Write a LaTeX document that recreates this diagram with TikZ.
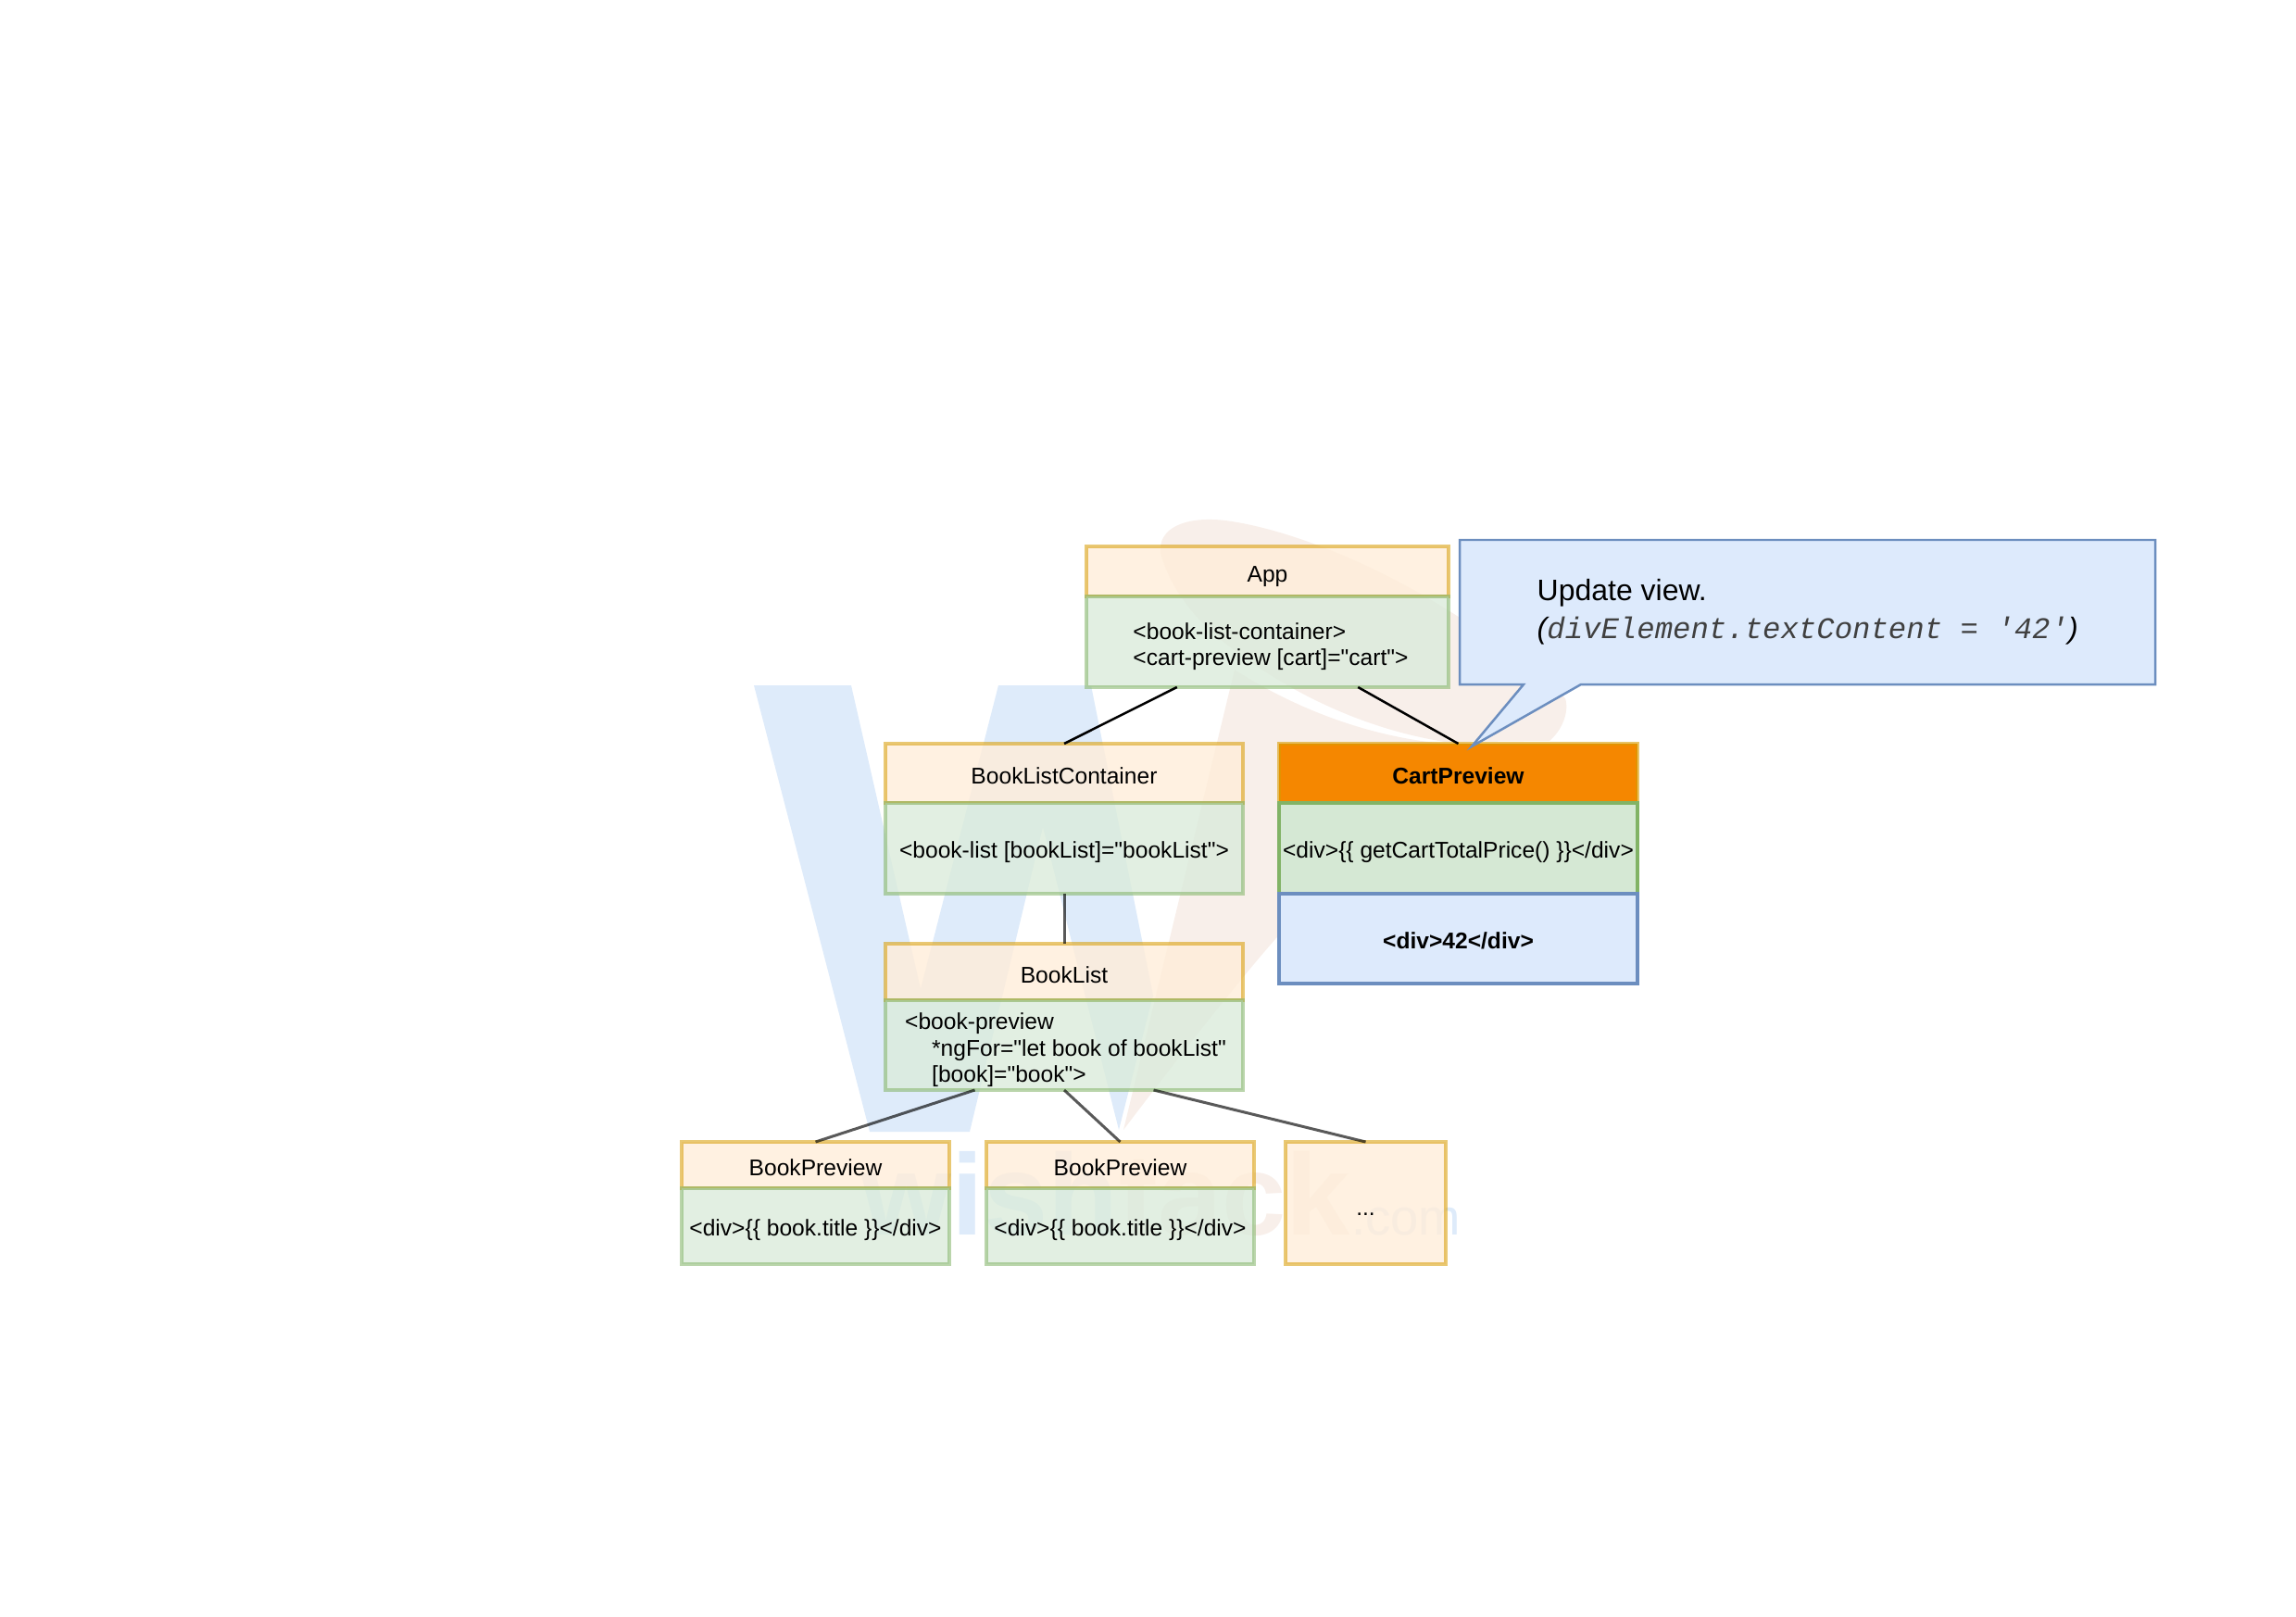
\documentclass[tikz,border=0pt]{standalone}
\usepackage{fontspec}
\setmainfont{Liberation Sans}[Ligatures=TeXOff]
\setmonofont{Liberation Mono}
\usetikzlibrary{positioning,calc}

\definecolor{markblue}{HTML}{DEEBFA}
\definecolor{markorange}{HTML}{F8EFEA}
\definecolor{headfill}{HTML}{FFEDD9}
\definecolor{headline}{HTML}{D79B00}
\definecolor{bodyfill}{HTML}{DBEBDB}
\definecolor{bodyline}{HTML}{82B366}
\definecolor{cartfill}{HTML}{D5E8D4}
\definecolor{viewfill}{HTML}{DDEAFC}
\definecolor{viewline}{HTML}{6C8EBF}
\definecolor{hotfill}{HTML}{F58700}

\newcommand{\topgap}{\rule{0pt}{8pt}}

\begin{document}
\begin{tikzpicture}[
    box/.style = {
      draw,
      rectangle,
      line width = 0.035cm,
      draw opacity = 0.55,
      fill opacity = 0.8,
      text opacity = 1,
      inner sep = 0pt,
      outer sep = 0pt,
      font = \fontsize{7}{8.1}\selectfont
    },
    head/.style = {
      box,
      anchor = north,
      draw = headline,
      fill = headfill,
      text height = 6.55pt,
      text depth = 0pt
    },
    body/.style = {
      box,
      draw = bodyline,
      fill = bodyfill
    },
    oneline/.style = {
      text height = 6.2pt,
      text depth = 0pt
    },
    solid box/.style = {
      draw opacity = 1,
      fill opacity = 1
    },
    link/.style = {
      line width = 0.025cm
    },
    soft link/.style = {
      line width = 0.03cm,
      draw opacity = 0.65
    }
  ]
  \useasboundingbox (0,0) rectangle (24.79,17.45);

  % watermark
  \path[fill=markblue] (8.14,10.05) -- (9.19,10.05) -- (9.94,6.77) -- (10.78,10.05) -- (11.78,10.05)
    -- (12.45,6.70) -- (12.08,5.25) -- (11.26,8.52) -- (10.47,5.23) -- (9.39,5.23) -- cycle;
  \path[fill=markorange] (12.53,11.48) .. controls (12.50,11.75) and (12.80,11.88) .. (13.23,11.83)
    .. controls (14.2,11.7) and (15.7,11.0) .. (16.90,9.91)
    .. controls (16.95,9.75) and (16.85,9.55) .. (16.73,9.45)
    -- (15.6,9.44) .. controls (14.9,9.55) and (14.1,9.85) .. (13.34,10.42)
    .. controls (12.95,10.70) and (12.65,11.05) .. (12.53,11.48) -- cycle;
  \path[fill=markorange] (12.13,5.25) -- (13.33,10.22)
    .. controls (13.9,9.85) and (14.7,9.50) .. (15.6,9.42)
    -- (15.3,9.3) -- (13.85,7.4) .. controls (13.4,6.9) and (12.7,6.0) .. (12.13,5.25) -- cycle;
  \node[anchor=base west, inner sep=0pt, text=markblue, font=\fontsize{35.4}{36}\selectfont\bfseries]
    (markwish) at (9.30,4.12) {wish};
  \node[anchor=base west, inner sep=0pt, text=markorange, font=\fontsize{35.4}{36}\selectfont\bfseries]
    (marktack) at (markwish.base east) {tack};
  \node[anchor=base west, inner sep=0pt, text=markblue, font=\fontsize{15.5}{16}\selectfont]
    (markcom) at (marktack.base east) {.com};

  % components
  \node[head, minimum width=3.91cm, minimum height=0.54cm] (apphead) at (13.685,11.55) {App};
  \node[body, below=0pt of apphead, minimum width=3.91cm, minimum height=0.98cm, align=left] (appbody)
    {\topgap\hspace*{0.07cm}<book-list-container>\\\hspace*{0.07cm}<cart-preview [cart]="cart">};

  \node[head, minimum width=3.86cm, minimum height=0.64cm] (listconthead) at (11.49,9.42) {BookListContainer};
  \node[body, oneline, below=0pt of listconthead, minimum width=3.86cm, minimum height=0.98cm] (listcontbody)
    {<book-list [bookList]="bookList">};

  \node[head, solid box, draw opacity=0.6, fill=hotfill, minimum width=3.87cm, minimum height=0.64cm,
    font=\fontsize{7}{8.1}\selectfont\bfseries] (carthead) at (15.745,9.42) {CartPreview};
  \node[body, oneline, solid box, fill=cartfill, below=0pt of carthead, minimum width=3.87cm, minimum height=0.98cm] (cartbody)
    {<div>\{\{ getCartTotalPrice() \}\}</div>};
  \node[box, oneline, solid box, draw=viewline, fill=viewfill, below=0pt of cartbody, minimum width=3.87cm,
    minimum height=0.97cm, font=\fontsize{7}{8.1}\selectfont\bfseries] (cartview) {<div>42</div>};

  \node[head, minimum width=3.86cm, minimum height=0.61cm] (listhead) at (11.49,7.26) {BookList};
  \node[body, below=0pt of listhead, minimum width=3.86cm, minimum height=0.97cm, align=left] (listbody)
    {\topgap\hspace*{0.03cm}<book-preview\\\hspace*{0.32cm}*ngFor="let book of bookList"\\\hspace*{0.32cm}[book]="book">};

  \node[head, minimum width=2.89cm, minimum height=0.50cm] (firsthead) at (8.805,5.12) {BookPreview};
  \node[body, oneline, below=0pt of firsthead, minimum width=2.89cm, minimum height=0.82cm] (firstbody)
    {<div>\{\{ book.title \}\}</div>};
  \node[head, minimum width=2.89cm, minimum height=0.50cm] (secondhead) at (12.095,5.12) {BookPreview};
  \node[body, oneline, below=0pt of secondhead, minimum width=2.89cm, minimum height=0.82cm] (secondbody)
    {<div>\{\{ book.title \}\}</div>};
  \node[head, text height=7.4pt, minimum width=1.73cm, minimum height=1.32cm] (morehead) at (14.745,5.12) {...};

  % links
  \draw[link] ($(appbody.south west)!0.25!(appbody.south east)$) -- (listconthead.north);
  \draw[link] ($(appbody.south west)!0.75!(appbody.south east)$) -- (carthead.north);
  \draw[soft link] (listcontbody.south) -- (listhead.north);
  \draw[soft link] ($(listbody.south west)!0.25!(listbody.south east)$) -- (firsthead.north);
  \draw[soft link] (listbody.south) -- (secondhead.north);
  \draw[soft link] ($(listbody.south west)!0.75!(listbody.south east)$) -- (morehead.north);

  % callout
  \draw[draw=viewline, fill=viewfill, line width=0.025cm] (15.76,11.62) -- (23.27,11.62) -- (23.27,10.06)
    -- (17.07,10.06) -- (15.89,9.39) -- (16.45,10.06) -- (15.76,10.06) -- cycle;
  \node[anchor=west, inner sep=0pt, align=left, font=\fontsize{9.1}{11.7}\selectfont] (viewnote) at (16.59,10.84)
    {Update view.\\\textit{(\textcolor{black!75}{\fontsize{9.2}{11.7}\selectfont\texttt{divElement.textContent = '42'}})}};
\end{tikzpicture}
\end{document}
